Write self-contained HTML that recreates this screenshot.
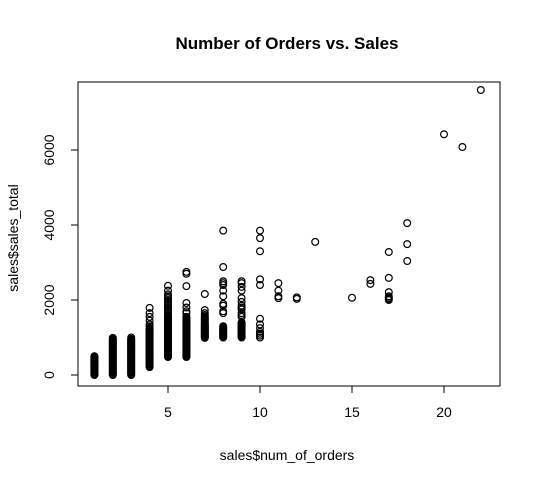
<!DOCTYPE html>
<html><head><meta charset="utf-8"><style>
body{margin:0;background:#fff;}
svg{display:block;font-family:"Liberation Sans",Arial,sans-serif;}
</style></head><body>
<svg id="chart" width="538" height="484" xmlns="http://www.w3.org/2000/svg">
<text x="287" y="49" text-anchor="middle" font-size="17" font-weight="bold">Number of Orders vs. Sales</text>
<rect x="78" y="82" width="422" height="304" fill="none" stroke="#000" stroke-width="1"/>
<text x="287" y="460" text-anchor="middle" font-size="14">sales$num_of_orders</text>
<text transform="translate(18,238) rotate(-90)" text-anchor="middle" font-size="14">sales$sales_total</text>
<g id="xaxis"></g>
<g id="yaxis"></g>
<g id="points"></g>
</svg>
<script>
const xTicks=[5,10,15,20];
const yTicks=[0,2000,4000,6000];
const orders=[1,2,3,4,5,6,7,8,9,10,11,12,13,15,16,17,18,20,21,22];
const salesByOrders=[
[0,10,20,30,40,50,60,70,80,90,100,110,120,130,140,150,160,170,180,190,200,210,220,230,240,250,260,270,280,290,300,310,320,330,340,350,360,370,380,390,400,410,420,430,440,450,460,470,480,490,500],
[0,20,40,60,80,100,120,140,160,180,200,220,240,260,280,300,320,340,360,380,400,420,440,460,480,500,520,540,560,580,600,620,640,660,680,700,720,740,760,780,800,820,840,860,880,900,920,940,960,990],
[0,20,40,60,80,100,120,140,160,180,200,220,240,260,280,300,320,340,360,380,400,420,440,460,480,500,520,540,560,580,600,620,640,660,680,700,720,740,760,780,800,820,840,860,880,900,920,940,960,1000],
[210,230,250,270,290,310,330,350,370,390,410,430,450,470,490,510,530,550,570,590,610,630,650,670,690,710,730,750,770,790,810,830,850,870,890,910,930,950,970,990,1010,1030,1050,1070,1090,1110,1130,1150,1170,1190,1210,1230,1250,1300,1350,1450,1550,1650,1790],
[480,500,520,540,560,580,600,620,640,660,680,700,720,740,760,780,800,820,840,860,880,900,920,940,960,980,1000,1020,1040,1060,1080,1100,1120,1140,1160,1180,1200,1220,1240,1260,1280,1300,1320,1340,1360,1380,1400,1420,1440,1460,1480,1500,1520,1540,1560,1600,1650,1700,1750,1800,1850,1900,1950,2000,2050,2100,2150,2250,2380],
[480,500,520,540,560,580,600,620,640,660,680,700,720,740,760,780,800,820,840,860,880,900,920,940,960,980,1000,1020,1040,1060,1080,1100,1120,1140,1160,1180,1200,1220,1240,1260,1280,1300,1320,1340,1360,1380,1400,1420,1440,1460,1480,1500,1520,1550,1650,1700,1800,1920,2370,2700,2750],
[990,1010,1030,1050,1070,1090,1110,1130,1150,1170,1190,1210,1230,1250,1270,1290,1310,1330,1350,1380,1410,1440,1470,1500,1530,1560,1600,1650,1730,2160],
[1000,1020,1040,1060,1080,1100,1120,1140,1160,1180,1200,1220,1240,1270,1300,1650,1700,1850,1900,2100,2250,2400,2450,2500,2880,3850],
[1000,1020,1040,1060,1080,1100,1120,1140,1160,1180,1200,1220,1240,1260,1280,1300,1320,1340,1360,1380,1400,1550,1600,1650,1750,1800,1850,1950,2050,2250,2350,2450,2500],
[1000,1050,1100,1150,1250,1350,1500,2400,2550,3300,3650,3850],
[2050,2100,2250,2450],
[2030,2070],
[3550],
[2060],
[2430,2530],
[2000,2030,2060,2100,2210,2590,3280],
[3040,3490,4050],
[6420],
[6080],
[7600]
];
const NS="http://www.w3.org/2000/svg";
const xs=v=>76+v*18.4;
const ys=v=>375-v*0.0375;
const xa=document.getElementById('xaxis'),ya=document.getElementById('yaxis'),pg=document.getElementById('points');
function mk(tag,attrs,parent){const e=document.createElementNS(NS,tag);for(const k in attrs)e.setAttribute(k,attrs[k]);parent.appendChild(e);return e;}
xTicks.forEach(t=>{
  const l=mk('line',{x1:xs(t),x2:xs(t),y1:386,y2:393,stroke:'#000'},xa);
  
  
  const tx=mk('text',{x:xs(t),y:417,'text-anchor':'middle','font-size':'14'},xa);
  tx.textContent=t;
  
  
});
mk('line',{x1:xs(5),x2:xs(20),y1:386,y2:386,stroke:'#000'},xa);
yTicks.forEach(t=>{
  const l=mk('line',{x1:71,x2:78,y1:ys(t),y2:ys(t),stroke:'#000'},ya);
  
  
  const tx=mk('text',{transform:`translate(54,${ys(t)}) rotate(-90)`,'text-anchor':'middle','font-size':'14'},ya);
  tx.textContent=t;
  
  
});
orders.forEach((o,i)=>{
  salesByOrders[i].forEach(v=>{
    const c=mk('circle',{cx:xs(o),cy:ys(v),r:3.4,fill:'none',stroke:'#000','stroke-width':1.2},pg);
    
    
  });
});
</script>
</body></html>
